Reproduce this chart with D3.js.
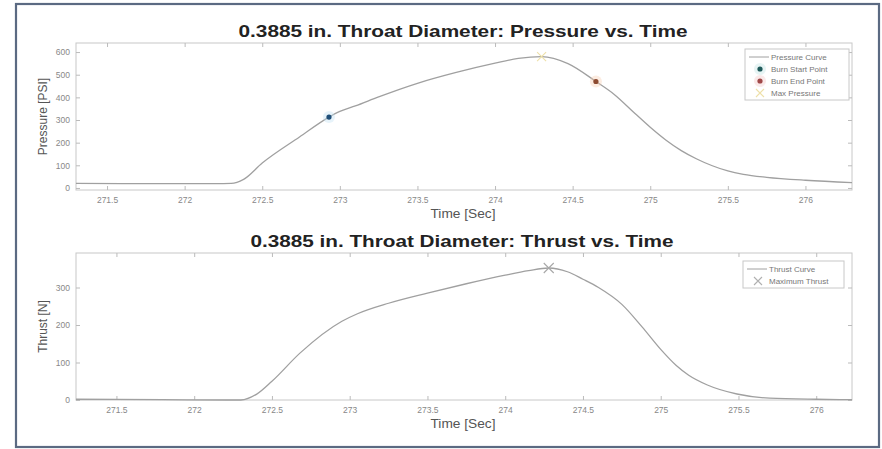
<!DOCTYPE html>
<html>
<head>
<meta charset="utf-8">
<script src="https://cdnjs.cloudflare.com/ajax/libs/d3/7.8.5/d3.min.js"></script>
<style>
  body { margin: 0; background: #fff; }
  svg { font-family: "Liberation Sans", Arial, sans-serif; }
</style>
</head>
<body>
<div id="chart"></div>
<script>
// pressure curve samples (time in sec, pressure in PSI)
var pTime = [271.3, 271.8, 272.2, 272.3, 272.38, 272.5, 272.74, 272.93, 273.0, 273.1, 273.25, 273.5, 273.75, 274.0, 274.15, 274.3, 274.47, 274.65, 274.77, 274.9, 275.0, 275.1, 275.2, 275.3, 275.4, 275.5, 275.6, 275.75, 276.0, 276.3];
var pVal  = [20, 19, 19, 20, 38, 110, 225, 313, 338, 362, 402, 462, 510, 551, 572, 580, 549, 470, 412, 330, 268, 212, 165, 128, 98, 75, 60, 47, 34, 24];

// thrust curve samples (time in sec, thrust in N)
var tTime = [271.24, 271.8, 272.2, 272.3, 272.4, 272.5, 272.68, 272.95, 273.05, 273.25, 273.5, 273.75, 274.0, 274.15, 274.28, 274.4, 274.5, 274.6, 274.75, 274.88, 275.0, 275.1, 275.18, 275.3, 275.49, 275.7, 276.0, 276.23];
var tVal  = [2, 1, 0, 0, 15, 50, 125, 210, 230, 258, 285, 310, 333, 345, 352, 342, 322, 300, 255, 195, 135, 92, 66, 40, 16, 5, 2, 1];

// special points
var burnStart = [272.93, 313];
var burnEnd = [274.65, 470];
var maxPressure = [274.3, 580];
var maxThrust = [274.28, 352];

var xTicks = [271.5, 272, 272.5, 273, 273.5, 274, 274.5, 275, 275.5, 276];
var pTicks = [0, 100, 200, 300, 400, 500, 600];
var tTicks = [0, 100, 200, 300];

var W = 882, H = 449;
var svg = d3.select("#chart").append("svg")
  .attr("width", W).attr("height", H);

svg.append("rect")
  .attr("x", 16).attr("y", 4).attr("width", 863).attr("height", 443)
  .attr("fill", "#fff").attr("stroke", "#5b6a82").attr("stroke-width", 2.2);

var fmt = function(d) { return String(+d.toFixed(1)); };

function panel(opt) {
  var x = d3.scaleLinear().domain(opt.xDomain).range([76, 852]);
  var y = d3.scaleLinear().domain(opt.yDomain).range([opt.bottom, opt.top]);
  var g = svg.append("g");

  g.append("rect")
    .attr("x", 76).attr("y", opt.top)
    .attr("width", 776).attr("height", opt.bottom - opt.top)
    .attr("fill", "#fff").attr("stroke", "#c8c8c8").attr("stroke-width", 1);

  var ax = [
    g.append("g").attr("transform", "translate(0," + opt.bottom + ")")
      .call(d3.axisBottom(x).tickValues(xTicks).tickFormat(fmt).tickSize(-4).tickPadding(7).tickSizeOuter(0)),
    g.append("g").attr("transform", "translate(0," + opt.top + ")")
      .call(d3.axisTop(x).tickValues(xTicks).tickFormat("").tickSize(-4).tickSizeOuter(0)),
    g.append("g").attr("transform", "translate(76,0)")
      .call(d3.axisLeft(y).tickValues(opt.yTicks).tickSize(-4).tickPadding(6).tickSizeOuter(0)),
    g.append("g").attr("transform", "translate(852,0)")
      .call(d3.axisRight(y).tickValues(opt.yTicks).tickFormat("").tickSize(-4).tickSizeOuter(0))
  ];
  ax.forEach(function(a) {
    a.select(".domain").remove();
    a.selectAll("line").attr("stroke", "#bbb");
    a.selectAll("text").attr("fill", "#888").style("font-size", "8.5px");
  });

  var line = d3.line()
    .x(function(d) { return x(d[0]); })
    .y(function(d) { return y(d[1]); })
    .curve(d3.curveMonotoneX);
  g.append("path")
    .datum(d3.zip(opt.times, opt.vals))
    .attr("d", line)
    .attr("fill", "none").attr("stroke", "#a0a0a0").attr("stroke-width", 1.3);

  svg.append("text")
    .attr("x", opt.titleX).attr("y", opt.top - 6)
    .attr("text-anchor", "middle")
    .attr("font-weight", "bold").attr("font-size", 16.5).attr("fill", "#222")
    .attr("textLength", opt.titleW).attr("lengthAdjust", "spacingAndGlyphs")
    .text(opt.title);
  svg.append("text")
    .attr("x", 463).attr("y", opt.bottom + 28)
    .attr("text-anchor", "middle")
    .attr("font-size", 12.5).attr("fill", "#555")
    .attr("textLength", 65).attr("lengthAdjust", "spacingAndGlyphs")
    .text("Time [Sec]");
  svg.append("text")
    .attr("transform", "translate(47," + ((opt.top + opt.bottom) / 2) + ") rotate(-90)")
    .attr("text-anchor", "middle")
    .attr("font-size", 12).attr("fill", "#555")
    .text(opt.yLabel);

  return { g: g, x: x, y: y };
}

function xMark(g, cx, cy, s, color) {
  g.append("path")
    .attr("d", "M" + (cx - s) + "," + (cy - s) + "L" + (cx + s) + "," + (cy + s) +
               "M" + (cx - s) + "," + (cy + s) + "L" + (cx + s) + "," + (cy - s))
    .attr("stroke", color).attr("stroke-width", 1.1).attr("fill", "none");
}

function dot(g, cx, cy, color, halo) {
  g.append("circle").attr("cx", cx).attr("cy", cy).attr("r", 6)
    .attr("fill", halo).attr("opacity", 0.35);
  g.append("circle").attr("cx", cx).attr("cy", cy).attr("r", 2.6)
    .attr("fill", color);
}

// top: pressure
var p = panel({
  xDomain: [271.3, 276.3], yDomain: [-9, 640], top: 43, bottom: 190,
  yTicks: pTicks, times: pTime, vals: pVal,
  title: "0.3885 in. Throat Diameter: Pressure vs. Time", yLabel: "Pressure [PSI]",
  titleX: 463, titleW: 449
});
dot(p.g, p.x(burnStart[0]), p.y(burnStart[1]), "#1f4f78", "#b9dcf2");
dot(p.g, p.x(burnEnd[0]), p.y(burnEnd[1]), "#8c4a30", "#f5c9a8");
xMark(p.g, p.x(maxPressure[0]), p.y(maxPressure[1]), 4.5, "#eee0a8");

// bottom: thrust
var t = panel({
  xDomain: [271.24, 276.23], yDomain: [0, 392], top: 253, bottom: 400,
  yTicks: tTicks, times: tTime, vals: tVal,
  title: "0.3885 in. Throat Diameter: Thrust vs. Time", yLabel: "Thrust [N]",
  titleX: 462, titleW: 423
});
xMark(t.g, t.x(maxThrust[0]), t.y(maxThrust[1]), 5, "#a8a8a8");

// legends
function legend(x0, y0, w, rows) {
  var lg = svg.append("g");
  lg.append("rect").attr("x", x0).attr("y", y0).attr("width", w).attr("height", rows.length * 12 + 3)
    .attr("fill", "#fff").attr("stroke", "#c8c8c8").attr("stroke-width", 1);
  rows.forEach(function(r, i) {
    var cy = y0 + 8 + i * 12;
    if (r.type === "line") {
      lg.append("line").attr("x1", x0 + 4).attr("x2", x0 + 24).attr("y1", cy).attr("y2", cy)
        .attr("stroke", "#a0a0a0").attr("stroke-width", 1);
    } else if (r.type === "dot") {
      dot(lg, x0 + 15, cy, r.color, r.halo);
    } else {
      xMark(lg, x0 + 15, cy, 4, r.color);
    }
    lg.append("text").attr("x", x0 + 26).attr("y", cy + 2.8)
      .attr("font-size", 8).attr("fill", "#777").text(r.label);
  });
}
legend(745, 49, 104, [
  { type: "line", label: "Pressure Curve" },
  { type: "dot", label: "Burn Start Point", color: "#1f5a5a", halo: "#b9e0e0" },
  { type: "dot", label: "Burn End Point", color: "#a04848", halo: "#f2c0c0" },
  { type: "x", label: "Max Pressure", color: "#eee0a8" }
]);
legend(743, 261, 101, [
  { type: "line", label: "Thrust Curve" },
  { type: "x", label: "Maximum Thrust", color: "#b0b0b0" }
]);
</script>
</body>
</html>
